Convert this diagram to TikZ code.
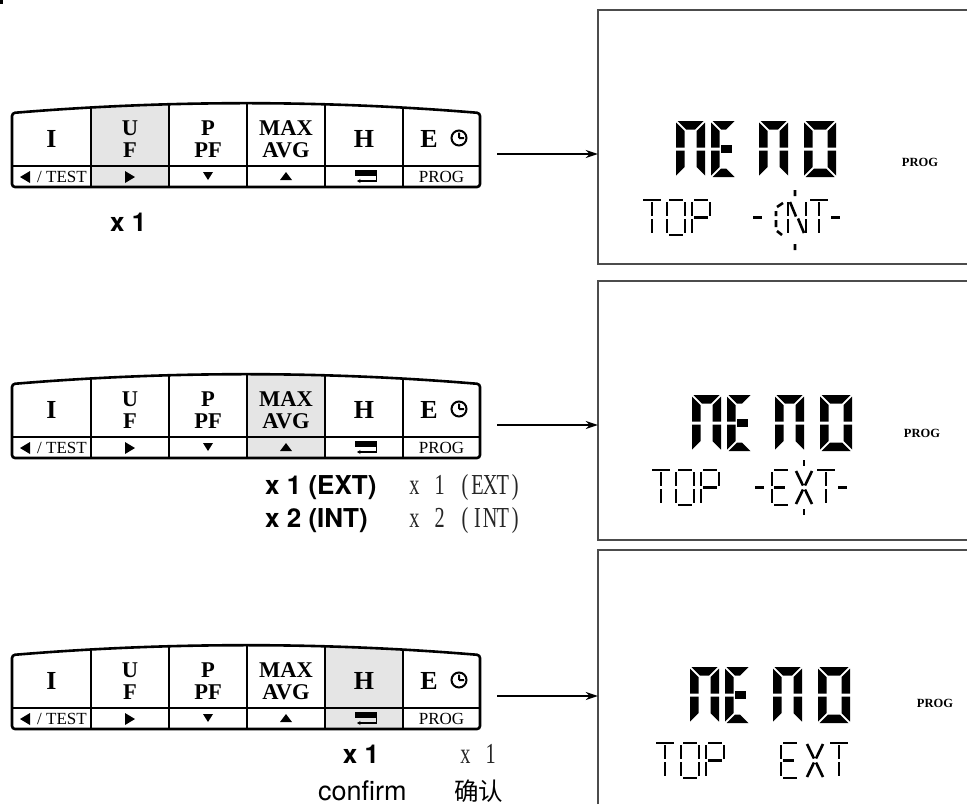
\documentclass[tikz,border=0pt]{standalone}
\usepackage{fontspec}
\setmainfont{Liberation Serif}
\setsansfont{TeX Gyre Heros}
\newfontfamily\songfont[FakeStretch=0.7]{Liberation Serif}
\newfontfamily\cjk{Noto Sans CJK SC}
\usetikzlibrary{arrows.meta, positioning, calc}

% sizes of the display digits
\def\dgh{56}\def\dgt{8.5}\def\dgg{1.5}\def\dgm{28}\def\dgw{29}
\def\dsw{18}\def\dsh{35}

% one character cell of the half width serif text
\newcommand{\cell}[1]{\makebox[12.6pt]{#1}}

% big segments, origin at the top left of a digit
\newcommand{\segA}{\fill (\dgg,0) -- (\dgw-\dgg,0) -- (\dgw-\dgt-\dgg,\dgt) -- (\dgt+\dgg,\dgt) -- cycle;}
\newcommand{\segD}{\fill (\dgg,\dgh) -- (\dgw-\dgg,\dgh) -- (\dgw-\dgt-\dgg,\dgh-\dgt) -- (\dgt+\dgg,\dgh-\dgt) -- cycle;}
\newcommand{\segF}{\fill (0,\dgg) -- (\dgt,\dgt+\dgg) -- (\dgt,\dgm-\dgg) -- (0,\dgm-\dgg) -- cycle;}
\newcommand{\segE}{\fill (0,\dgm+\dgg) -- (\dgt,\dgm+\dgg) -- (\dgt,\dgh-\dgt-\dgg) -- (0,\dgh-\dgg) -- cycle;}
\newcommand{\segB}{\fill (\dgw,\dgg) -- (\dgw-\dgt,\dgt+\dgg) -- (\dgw-\dgt,\dgm-\dgg) -- (\dgw,\dgm-\dgg) -- cycle;}
\newcommand{\segC}{\fill (\dgw,\dgm+\dgg) -- (\dgw-\dgt,\dgm+\dgg) -- (\dgw-\dgt,\dgh-\dgt-\dgg) -- (\dgw,\dgh-\dgg) -- cycle;}
\newcommand{\segG}{\fill (\dgt+\dgg,\dgm-\dgt/2+0.5) rectangle (0.85*\dgw,\dgm+\dgt/2-0.5);}

% small segments
\newcommand{\sma}{\draw[lcdthin] (2,0) -- (\dsw-2,0);}
\newcommand{\smd}{\draw[lcdthin] (2,\dsh) -- (\dsw-2,\dsh);}
\newcommand{\smf}{\draw[lcdthin] (0,2) -- (0,\dsh/2-1.5);}
\newcommand{\sme}{\draw[lcdthin] (0,\dsh/2+1.5) -- (0,\dsh-2);}
\newcommand{\smb}{\draw[lcdthin] (\dsw,2) -- (\dsw,\dsh/2-1.5);}
\newcommand{\smc}{\draw[lcdthin] (\dsw,\dsh/2+1.5) -- (\dsw,\dsh-2);}
\newcommand{\smg}{\draw[lcdthin] (2,\dsh/2) -- (\dsw-2,\dsh/2);}
\newcommand{\smi}{\draw[lcdthin] (\dsw/2,2) -- (\dsw/2,\dsh/2-1.5) (\dsw/2,\dsh/2+1.5) -- (\dsw/2,\dsh-2);}

\begin{document}
\begin{tikzpicture}[x=1pt, y=-1pt,
		kpout/.style={insert path={(12,150) -- (12,113) .. controls (168,100) and (324,100) .. (480,113) -- (480,187) -- (12,187) -- cycle}},
		keyframe/.style={line width=2.6pt, rounded corners=3pt},
		keyline/.style={line width=2pt},
		keyhl/.style={fill=black!10},
		keytop/.style={font=\fontsize{22.5}{22}\selectfont\bfseries, align=center, inner sep=0pt},
		keybig/.style={font=\fontsize{26}{26}\selectfont\bfseries, inner sep=0pt},
		keybot/.style={font=\fontsize{17}{17}\selectfont, inner sep=0pt, anchor=base},
		flow/.style={-{Stealth[length=12pt, width=8pt]}, line width=1.6pt},
		dispbox/.style={draw=none, minimum width=369pt, inner sep=0pt},
		dispframe/.style={draw=black!70, line width=1.6pt},
		proglab/.style={font=\fontsize{12.5}{12.5}\selectfont\bfseries, inner sep=0pt},
		sanslab/.style={font=\fontsize{26}{33}\selectfont\sffamily\bfseries, anchor=base west, inner sep=0pt},
		songlab/.style={font=\fontsize{29}{33}\selectfont\songfont, anchor=base west, inner sep=0pt, text=black!85},
		lcdthin/.style={draw=black, line width=2.6pt},
		pics/bigM/.style={code={\def\dgw{29}\segA\segB\segC\segE\segF}},
		pics/bigE/.style={code={\def\dgw{25}\segA\segD\segE\segF\segG}},
		pics/bigO/.style={code={\def\dgw{32}\segA\segB\segC\segD\segE\segF}},
		pics/smT/.style={code={\draw[lcdthin] (0,0) -- (\dsw,0); \smi}},
		pics/smO/.style={code={\sma\smb\smc\smd\sme\smf}},
		pics/smP/.style={code={\sma\smb\sme\smf\smg}},
		pics/smE/.style={code={\sma\smd\sme\smf\draw[lcdthin] (2,\dsh/2) -- (\dsw-5,\dsh/2);}},
		pics/smX/.style={code={\draw[lcdthin] (1,1) -- (\dsw/2-1,\dsh/2-2) (\dsw-1,1) -- (\dsw/2+1,\dsh/2-2)
			(1,\dsh-1) -- (\dsw/2-1,\dsh/2+2) (\dsw-1,\dsh-1) -- (\dsw/2+1,\dsh/2+2);}},
		pics/smN/.style={code={\smb\smc\sme\smf\draw[lcdthin] (2,2) -- (\dsw/2-1,\dsh/2-1) (\dsw/2+1,\dsh/2+1) -- (\dsw-2,\dsh-2);}},
		pics/smDash/.style={code={\draw[lcdthin] (0,\dsh/2) -- (9,\dsh/2);}}
	]
	\useasboundingbox (0,0) rectangle (967,804);
	\fill (0,0) rectangle (3,4);
	
	% --- Key pads ---
	\foreach \k/\dy/\hla/\hlb in {1/0/91/169, 2/271/247/325, 3/542/325/403}{
		\begin{scope}[shift={(0,\dy)}]
			\begin{scope}
				\clip[kpout];
				\fill[keyhl] (\hla,90) rectangle (\hlb,190);
				\foreach \x in {91,169,247,325,403} \draw[keyline] (\x,90) -- (\x,190);
				\draw[keyline] (0,166) -- (490,166);
			\end{scope}
			\draw[keyframe, kpout];
			% upper row
			\node[keybig] (k\k-i) at (51.5,139) {I};
			\node[keytop] (k\k-u) at (130,139) {U\\F};
			\node[keytop] (k\k-p) at (208,139) {P\\PF};
			\node[keytop] (k\k-m) at (286,139) {MAX\\AVG};
			\node[keybig] (k\k-h) at (364,139) {H};
			\node[keybig] (k\k-e) at (429,139) {E};
			\draw[line width=2pt] (459,138) circle (7.5) (459,138) -- (459,132.5) (459,138) -- (464,138);
			% lower row
			\fill (20,177) -- (30,171) -- (30,183) -- cycle;
			\node[keybot] (k\k-t) at (62,182.5) {/ TEST};
			\fill (125,171) -- (135,177) -- (125,183) -- cycle;
			\fill (203,172) -- (213,172) -- (208,180) -- cycle;
			\fill (280,180) -- (292,180) -- (286,172) -- cycle;
			\fill (355,170) rectangle (377,175.5);
			\draw[line width=1.3pt, -{Stealth[length=3.5pt, width=4pt]}] (376.3,175) -- (376.3,181) -- (357,181);
			\node[keybot] (k\k-g) at (441.5,182.5) {PROG};
			\coordinate (kp\k) at (497,154);
		\end{scope}
	}
	
	% --- Displays ---
	\node[dispbox, minimum height=254pt] (d1) at (782.5,137) {};
	\node[dispbox, minimum height=259pt] (d2) at (782.5,410.5) {};
	\node[dispbox, minimum height=254pt] (d3) at (782.5,677) {};
	\draw[dispframe] (d1.north east) -- (d1.north west) -- (d1.south west) -- (d1.south east);
	\draw[dispframe] (d2.north east) -- (d2.north west) -- (d2.south west) -- (d2.south east);
	\draw[dispframe] (d3.south west) -- (d3.north west) -- (d3.north east);
	
	% --- Arrows ---
	\foreach \k in {1,2,3} \draw[flow] (kp\k) -- (kp\k -| d\k.west);
	
	% display 1
	\pic at (676,121) {bigM}; \pic at (711,121) {bigE}; \pic at (759,121) {bigM}; \pic at (804,121) {bigO};
	\pic at (643,200) {smT}; \pic at (667,200) {smO}; \pic at (692,200) {smP};
	\pic at (753,200) {smDash}; \pic at (788,200) {smN}; \pic at (810,200) {smT}; \pic at (831,200) {smDash};
	\draw[lcdthin] (783,203) -- (777,207) (776,211) -- (776,216) (776,220) -- (776,227) (777,231) -- (782,235)
		(795,190) -- (795,196) (795,244) -- (795,250);
	\node[proglab] (p1) at (920,162) {PROG};
	
	% display 2
	\pic at (692,395) {bigM}; \pic at (727,395) {bigE}; \pic at (775,395) {bigM}; \pic at (820,395) {bigO};
	\pic at (652,470) {smT}; \pic at (676,470) {smO}; \pic at (701,470) {smP};
	\pic at (755,470) {smDash}; \pic at (772,470) {smE}; \pic at (795,470) {smX}; \pic at (817,470) {smT}; \pic at (838,470) {smDash};
	\draw[lcdthin] (804,460) -- (804,466) (804,509) -- (804,515);
	\node[proglab] (p2) at (922,433) {PROG};
	
	% display 3
	\pic at (690,667) {bigM}; \pic at (725,667) {bigE}; \pic at (773,667) {bigM}; \pic at (818,667) {bigO};
	\pic at (656,743) {smT}; \pic at (681,743) {smO}; \pic at (706,743) {smP};
	\pic at (781,743) {smE}; \pic at (806,743) {smX}; \pic at (830,743) {smT};
	\node[proglab] (p3) at (935,703) {PROG};
	
	% --- Press counts ---
	\node[sanslab] (n1) at (110,231) {x 1};
	\node[sanslab] (n2a) at (265,494) {x 1 (EXT)};
	\node[sanslab] (n2b) at (265,527) {x 2 (INT)};
	\node[songlab] (s2a) at (408,494) {\cell{x}\cell{}\cell{1}\cell{}\cell{(}\cell{E}\cell{X}\cell{T}\cell{)}};
	\node[songlab] (s2b) at (408,527) {\cell{x}\cell{}\cell{2}\cell{}\cell{(}\cell{I}\cell{N}\cell{T}\cell{)}};
	\node[sanslab, anchor=base] (n3) at (361,763) {x 1};
	\node[sanslab, font=\fontsize{27}{33}\selectfont\sffamily] (c3) at (318,800) {confirm};
	\node[songlab] (s3) at (459,763) {\cell{x}\cell{}\cell{1}};
	\node[anchor=base west, inner sep=0pt, font=\fontsize{24.5}{30}\selectfont\cjk] (q3) at (454,800) {确认};
\end{tikzpicture}
\end{document}
